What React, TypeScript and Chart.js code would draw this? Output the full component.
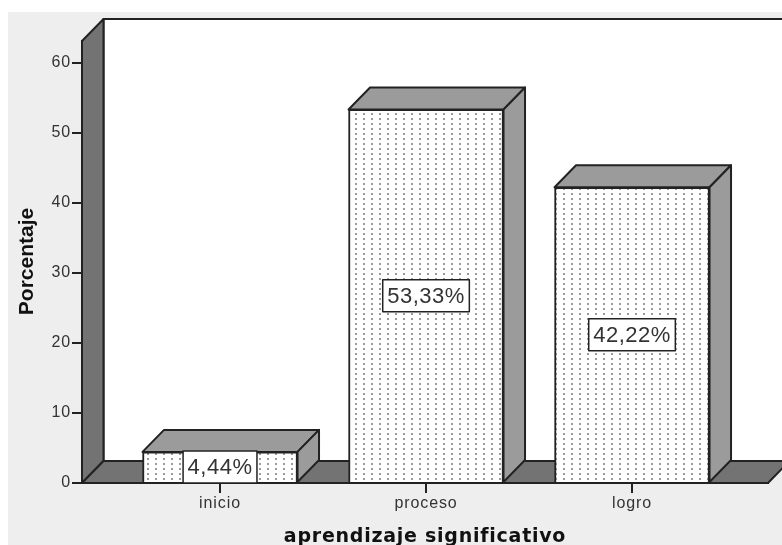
import React, { useEffect, useRef } from "react";
import { Chart, registerables } from "chart.js";

Chart.register(...registerables);

const categories = ["inicio", "proceso", "logro"];
const percentages = [4.44, 53.33, 42.22];
const valueLabels = ["4,44%", "53,33%", "42,22%"];
const yTicks = [0, 10, 20, 30, 40, 50, 60];
const xTitle = "aprendizaje significativo";
const yTitle = "Porcentaje";

const DEPTH_X = 21.5;
const DEPTH_Y = 22;
const LINE = "#222222";

function makePattern(): CanvasPattern | string {
  const c = document.createElement("canvas");
  c.width = 8;
  c.height = 5;
  const g = c.getContext("2d");
  if (!g) return "#ffffff";
  g.fillStyle = "#ffffff";
  g.fillRect(0, 0, 8, 5);
  g.fillStyle = "#9a9a9a";
  g.fillRect(3, 1, 2, 2);
  return g.createPattern(c, "repeat") ?? "#ffffff";
}

function poly(ctx: CanvasRenderingContext2D, pts: number[][], fill: string) {
  ctx.beginPath();
  pts.forEach(([x, y], i) => (i ? ctx.lineTo(x, y) : ctx.moveTo(x, y)));
  ctx.closePath();
  ctx.fillStyle = fill;
  ctx.fill();
  ctx.stroke();
}

const box3d = {
  id: "box3d",
  beforeDraw(chart: any) {
    chart.ctx.letterSpacing = "0.9px";
  },
  beforeDatasetsDraw(chart: any) {
    const { ctx, chartArea: a } = chart;
    const y = chart.scales.y;
    const base = y.getPixelForValue(0);
    ctx.save();
    ctx.strokeStyle = LINE;
    ctx.lineWidth = 2;
    ctx.lineJoin = "round";
    poly(ctx, [[a.left + DEPTH_X, a.top - DEPTH_Y], [a.right + 40, a.top - DEPTH_Y], [a.right + 40, base - DEPTH_Y], [a.left + DEPTH_X, base - DEPTH_Y]], "#ffffff");
    poly(ctx, [[a.left, a.top], [a.left + DEPTH_X, a.top - DEPTH_Y], [a.left + DEPTH_X, base - DEPTH_Y], [a.left, base]], "#737373");
    poly(ctx, [[a.left, base], [a.left + DEPTH_X, base - DEPTH_Y], [a.right + DEPTH_X, base - DEPTH_Y], [a.right, base]], "#737373");
    ctx.restore();
  },
  afterDatasetsDraw(chart: any) {
    const { ctx } = chart;
    const bars = chart.getDatasetMeta(0).data;
    ctx.save();
    ctx.strokeStyle = LINE;
    ctx.lineWidth = 2;
    ctx.lineJoin = "round";
    bars.forEach((bar: any, i: number) => {
      const half = bar.width / 2;
      const l = bar.x - half;
      const r = bar.x + half;
      poly(ctx, [[l, bar.y], [l + DEPTH_X, bar.y - DEPTH_Y], [r + DEPTH_X, bar.y - DEPTH_Y], [r, bar.y]], "#9b9b9b");
      poly(ctx, [[r, bar.y], [r + DEPTH_X, bar.y - DEPTH_Y], [r + DEPTH_X, bar.base - DEPTH_Y], [r, bar.base]], "#9b9b9b");
      const text = valueLabels[i];
      ctx.font = "22px 'Liberation Sans'";
      ctx.letterSpacing = "0.5px";
      const w = ctx.measureText(text).width + 9;
      const h = 32;
      const cy = (bar.y + bar.base) / 2;
      ctx.fillStyle = "#ffffff";
      ctx.lineWidth = 1.5;
      ctx.fillRect(bar.x - w / 2, cy - h / 2, w, h);
      ctx.strokeRect(bar.x - w / 2, cy - h / 2, w, h);
      ctx.lineWidth = 2;
      ctx.fillStyle = "#333333";
      ctx.textAlign = "center";
      ctx.textBaseline = "middle";
      ctx.fillText(text, bar.x, cy + 1);
    });
    ctx.restore();

    // axis titles, with the reference's wide letter spacing
    const a = chart.chartArea;
    ctx.save();
    ctx.fillStyle = "#111111";
    ctx.textAlign = "center";
    ctx.textBaseline = "alphabetic";
    ctx.font = "bold 19px 'DejaVu Sans'";
    ctx.letterSpacing = "0.75px";
    ctx.fillText(xTitle, (a.left + a.right) / 2, 530);
    ctx.translate(25, (a.top + a.bottom) / 2 - 0.5);
    ctx.rotate(-Math.PI / 2);
    ctx.font = "bold 21px 'Liberation Sans'";
    ctx.letterSpacing = "0px";
    ctx.fillText(yTitle, 0, 0);
    ctx.restore();
  },
};

export default function App() {
  const ref = useRef<HTMLCanvasElement>(null);
  useEffect(() => {
    if (!ref.current) return;
    const chart = new Chart(ref.current, {
      type: "bar",
      data: {
        datasets: [
          {
            data: percentages.map((v, i) => ({ x: i, y: v })),
            backgroundColor: makePattern() as any,
            borderColor: LINE,
            borderWidth: 2,
            barThickness: 155,
          },
        ],
      },
      plugins: [box3d],
      options: {
        responsive: false,
        animation: false,
        layout: { padding: { top: 29, right: 14, left: 0, bottom: 0 } },
        plugins: { legend: { display: false }, tooltip: { enabled: false } },
        scales: {
          x: {
            type: "linear",
            offset: false,
            min: -0.67,
            max: 2.66,
            afterBuildTicks: (s: any) => {
              s.ticks = categories.map((_, i) => ({ value: i }));
            },
            afterFit: (s: any) => {
              s.height = 62;
            },
            grid: { offset: false, drawOnChartArea: false, color: LINE, tickLength: 10, lineWidth: 2 },
            border: { color: LINE, width: 2 },
            ticks: {
              autoSkip: false,
              maxRotation: 0,
              padding: 1,
              color: "#333333",
              font: { family: "'Liberation Sans'", size: 16 },
              callback: (v: any) => categories[v as number] ?? "",
            },
          },
          y: {
            min: 0,
            max: 63.1,
            afterBuildTicks: (s: any) => {
              s.ticks = yTicks.map((value) => ({ value }));
            },
            afterFit: (s: any) => {
              s.width = 74;
            },
            grid: { drawOnChartArea: false, color: LINE, tickLength: 10, lineWidth: 2 },
            border: { color: LINE, width: 2 },
            ticks: {
              padding: 1,
              color: "#333333",
              font: { family: "'Liberation Sans'", size: 16 },
            },
          },
        },
      },
    });
    return () => chart.destroy();
  }, []);
  return (
    <canvas
      ref={ref}
      width={774}
      height={533}
      style={{ position: "absolute", left: 8, top: 12, width: 774, height: 533, background: "#eeeeee" }}
    />
  );
}
